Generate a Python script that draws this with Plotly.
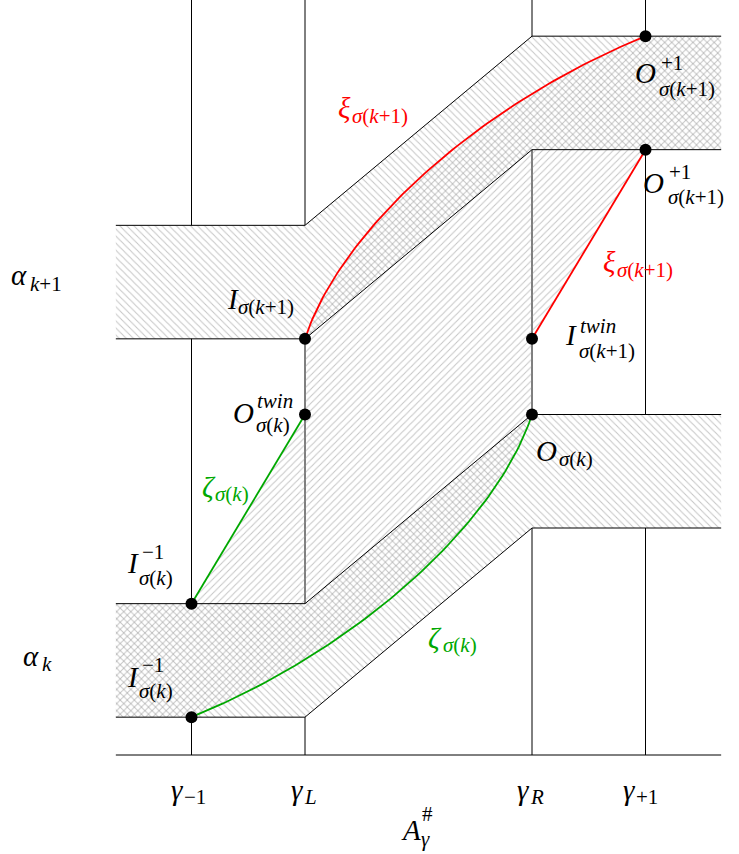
import plotly.graph_objects as go

W, H = 739, 854

# ---------------- data ----------------
GAMMA_X = [1, 2, 4, 5]                     # γ_-1, γ_L, γ_R, γ_+1
X_LEFT, X_RIGHT = 1/3, 17/3                # extent of the bands / axis
AXIS_Y = 0

BAND_X = [1/3, 2, 4, 17/3]
LOW_BAND_TOP = [4/3, 4/3, 3, 3]            # α_k band
LOW_BAND_BOT = [1/3, 1/3, 2, 2]
UP_BAND_TOP = [14/3, 14/3, 19/3, 19/3]     # α_{k+1} band
UP_BAND_BOT = [11/3, 11/3, 16/3, 16/3]

# marked points: I^-1 (lower), I^-1 (upper), O^twin, I, O, I^twin, O^+1 (lower), O^+1 (upper)
PTS_X = [1, 1, 2, 2, 4, 4, 5, 5]
PTS_Y = [1/3, 4/3, 3, 11/3, 3, 11/3, 16/3, 19/3]

# Bezier control points of the curved paths
RED_CURVE_X = [2, 2.3, 3.5, 5]
RED_CURVE_Y = [11/3, 4.6, 5.72, 19/3]
GREEN_CURVE_X = [1, 2.5, 3.7, 4]
GREEN_CURVE_Y = [1/3, 0.947, 2.067, 3]

GREEN_LINE_X = [1, 2]
GREEN_LINE_Y = [4/3, 3]
RED_LINE_X = [4, 5]
RED_LINE_Y = [11/3, 16/3]

RED = "#ff0000"
GREEN = "#00a800"
HATCH = "#8c8c8c"
CLEAR = "rgba(0,0,0,0)"

UNIT = 113.5              # px per data unit
X0_PX, Y0_PX = 305, 755   # pixel of data point (2, 0)


def bezier(px, py, n=80):
    xs, ys = [], []
    for i in range(n + 1):
        t = i / n
        a, b, c, d = (1-t)**3, 3*(1-t)**2*t, 3*(1-t)*t**2, t**3
        xs.append(a*px[0] + b*px[1] + c*px[2] + d*px[3])
        ys.append(a*py[0] + b*py[1] + c*py[2] + d*py[3])
    return xs, ys


red_x, red_y = bezier(RED_CURVE_X, RED_CURVE_Y)
green_x, green_y = bezier(GREEN_CURVE_X, GREEN_CURVE_Y)

fig = go.Figure()

# vertical guide lines
vx, vy = [], []
for g in GAMMA_X:
    vx += [g, g, None]
    vy += [AXIS_Y, 7, None]
fig.add_trace(go.Scatter(x=vx, y=vy, mode="lines", line=dict(color="black", width=1),
                         hoverinfo="skip", showlegend=False))
# horizontal axis
fig.add_trace(go.Scatter(x=[X_LEFT, X_RIGHT], y=[AXIS_Y, AXIS_Y], mode="lines",
                         line=dict(color="black", width=1), hoverinfo="skip", showlegend=False))

# bands: white background with "\" hatching
for top, bot in [(LOW_BAND_TOP, LOW_BAND_BOT), (UP_BAND_TOP, UP_BAND_BOT)]:
    fig.add_trace(go.Scatter(
        x=BAND_X + BAND_X[::-1], y=top + bot[::-1], mode="lines", fill="toself",
        fillcolor="white", line=dict(width=0, color=CLEAR),
        fillpattern=dict(shape="\\", size=5, solidity=0.2, fgcolor=HATCH, bgcolor="white",
                         fillmode="overlay"),
        hoverinfo="skip", showlegend=False))

# region between ζ and ξ : "/" hatching on transparent background
reg_x = (GREEN_LINE_X + red_x + [X_RIGHT, X_RIGHT] + RED_LINE_X[::-1]
         + green_x[::-1] + [X_LEFT, X_LEFT])
reg_y = (GREEN_LINE_Y + red_y + [UP_BAND_TOP[-1], UP_BAND_BOT[-1]] + RED_LINE_Y[::-1]
         + green_y[::-1] + [LOW_BAND_BOT[0], LOW_BAND_TOP[0]])
fig.add_trace(go.Scatter(
    x=reg_x, y=reg_y, mode="lines", fill="toself", fillcolor=CLEAR,
    line=dict(width=0, color=CLEAR),
    fillpattern=dict(shape="/", size=5, solidity=0.2, fgcolor=HATCH, bgcolor=CLEAR,
                     fillmode="overlay"),
    hoverinfo="skip", showlegend=False))

# band outlines
for edge in [LOW_BAND_TOP, LOW_BAND_BOT, UP_BAND_TOP, UP_BAND_BOT]:
    fig.add_trace(go.Scatter(x=BAND_X, y=edge, mode="lines", line=dict(color="black", width=1),
                             hoverinfo="skip", showlegend=False))

# ζ and ξ paths
for xs, ys, col in [(GREEN_LINE_X, GREEN_LINE_Y, GREEN), (green_x, green_y, GREEN),
                    (red_x, red_y, RED), (RED_LINE_X, RED_LINE_Y, RED)]:
    fig.add_trace(go.Scatter(x=xs, y=ys, mode="lines", line=dict(color=col, width=1.8),
                             hoverinfo="skip", showlegend=False))

# points
fig.add_trace(go.Scatter(x=PTS_X, y=PTS_Y, mode="markers",
                         marker=dict(color="black", size=12), hoverinfo="skip", showlegend=False))

# ---------------- labels ----------------
FONT = "Liberation Serif"
S_BASE = 29
S_SCRIPT = 21
annotations = []


def piece(text, x_px, baseline_px, size, color="black"):
    yc = baseline_px - 0.3375 * size
    annotations.append(dict(
        text=text, x=x_px / W, y=1 - yc / H, xref="paper", yref="paper",
        xanchor="left", yanchor="middle", showarrow=False, borderpad=0,
        font=dict(family=FONT, size=size, color=color)))


def label(base, bx, bb, sub=None, sx=None, sb=None, sup=None, ux=None, ub=None, color="black"):
    piece(base, bx, bb, S_BASE, color)
    if sub:
        piece(sub, sx, sb, S_SCRIPT, color)
    if sup:
        piece(sup, ux, ub, S_SCRIPT, color)


SIG_K = "<i>σ</i>(<i>k</i>)"
SIG_K1 = "<i>σ</i>(<i>k</i>+1)"

label("<i>α</i>", 10, 285, "<i>k</i>+1", 29, 291)
label("<i>α</i>", 22, 666, "<i>k</i>", 41, 671)

label("<i>I</i>", 226, 309, SIG_K1, 237, 314)
label("<i>O</i>", 232, 423, SIG_K, 255, 432, "<i>twin</i>", 256, 408)
label("<i>ζ</i>", 201, 497, SIG_K, 214, 501, color=GREEN)
label("<i>I</i>", 126, 573, SIG_K, 138, 585, "−1", 141, 559)
label("<i>I</i>", 126, 687, SIG_K, 138, 698, "−1", 141, 672)
label("<i>O</i>", 535, 461, SIG_K, 558, 466)
label("<i>I</i>", 564, 345, SIG_K1, 578, 358, "<i>twin</i>", 579, 333)
label("<i>O</i>", 634, 83, SIG_K1, 658, 96, "+1", 660, 70)
label("<i>O</i>", 642, 193, SIG_K1, 667, 204, "+1", 668, 179)
label("<i>ξ</i>", 337, 118, SIG_K1, 351, 123, color=RED)
label("<i>ξ</i>", 602, 272, SIG_K1, 616, 277, color=RED)
label("<i>ζ</i>", 427, 648, SIG_K, 442, 652, color=GREEN)

label("<i>γ</i>", 170, 800, "−1", 183, 804)
label("<i>γ</i>", 290, 800, "<i>L</i>", 303, 804)
label("<i>γ</i>", 516, 800, "<i>R</i>", 529, 804)
label("<i>γ</i>", 622, 800, "+1", 635, 804)
label("<i>A</i>", 400, 840, "<i>γ</i>", 420, 846, "#", 421, 821)

fig.update_layout(
    width=W, height=H, margin=dict(l=0, r=0, t=0, b=0),
    paper_bgcolor="white", plot_bgcolor="white",
    xaxis=dict(range=[2 - X0_PX / UNIT, 2 + (W - X0_PX) / UNIT],
               visible=False, fixedrange=True),
    yaxis=dict(range=[(Y0_PX - H) / UNIT, Y0_PX / UNIT],
               visible=False, fixedrange=True),
    annotations=annotations, showlegend=False,
)

fig.write_html("out.html", config={"displayModeBar": False},
               post_script="document.body.style.margin='0px';"
                           "document.body.style.overflow='hidden';")
